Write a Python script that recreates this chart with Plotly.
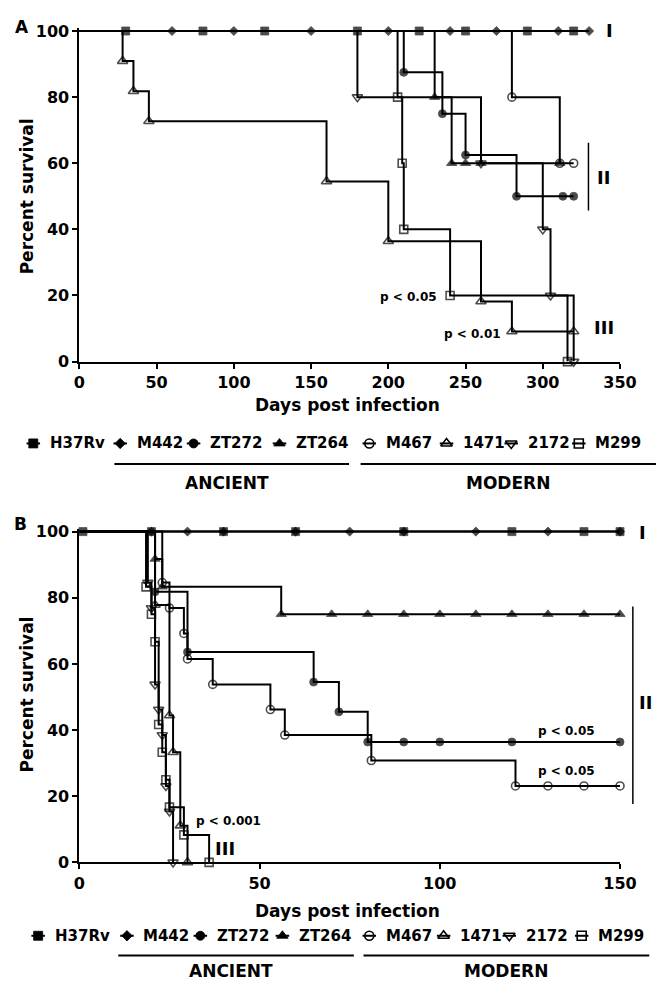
import plotly.graph_objects as go

W, H = 666, 982
FONT = "DejaVu Sans"

NAMES = ["H37Rv", "M442", "ZT272", "ZT264", "M467", "1471", "2172", "M299"]
SYMBOLS = ["square", "diamond", "circle", "triangle-up",
           "circle-open", "triangle-up-open", "triangle-down-open", "square-open"]

# ---------------- Panel A (days post infection, percent survival) ----------------
A_H37RV_T = [0, 30, 80, 120, 180, 220, 250, 290, 320]
A_H37RV_S = [100, 100, 100, 100, 100, 100, 100, 100, 100]
A_M442_T = [0, 60, 100, 150, 200, 240, 270, 310, 330]
A_M442_S = [100, 100, 100, 100, 100, 100, 100, 100, 100]
A_ZT272_T = [0, 210, 235, 250, 283, 313, 320]
A_ZT272_S = [100, 87.5, 75, 62.5, 50, 50, 50]
A_ZT264_T = [0, 230, 241, 250, 260, 311]
A_ZT264_S = [100, 80, 60, 60, 60, 60]
A_M467_T = [0, 280, 311, 320]
A_M467_S = [100, 80, 60, 60]
A_1471_T = [0, 28, 35, 45, 160, 200, 260, 280, 320]
A_1471_S = [100, 90.9, 81.8, 72.7, 54.5, 36.4, 18.2, 9.1, 9.1]
A_2172_T = [0, 180, 260, 300, 305, 320]
A_2172_S = [100, 80, 60, 40, 20, 0]
A_M299_T = [0, 206, 209, 210, 240, 316]
A_M299_S = [100, 80, 60, 40, 20, 0]

# ---------------- Panel B ----------------
B_H37RV_T = [0, 1, 20, 40, 60, 90, 120, 140, 150]
B_H37RV_S = [100, 100, 100, 100, 100, 100, 100, 100, 100]
B_M442_T = [0, 20, 30, 40, 60, 75, 90, 110, 130, 150]
B_M442_S = [100, 100, 100, 100, 100, 100, 100, 100, 100, 100]
B_ZT272_T = [0, 21, 30, 65, 72, 80, 90, 100, 120, 150]
B_ZT272_S = [100, 81.8, 63.6, 54.5, 45.5, 36.4, 36.4, 36.4, 36.4, 36.4]
B_ZT264_T = [0, 21, 23, 56, 70, 80, 90, 100, 110, 120, 130, 140, 150]
B_ZT264_S = [100, 91.7, 83.3, 75, 75, 75, 75, 75, 75, 75, 75, 75, 75]
B_M467_T = [0, 23, 25, 29, 30, 37, 53, 57, 81, 121, 130, 140, 150]
B_M467_S = [100, 84.6, 76.9, 69.2, 61.5, 53.8, 46.2, 38.5, 30.8, 23.1, 23.1, 23.1, 23.1]
B_1471_T = [0, 21, 25, 26, 28, 30]
B_1471_S = [100, 77.8, 44.4, 33.3, 11.1, 0]
B_2172_T = [0, 19, 20, 21, 22, 23, 24, 25, 26]
B_2172_S = [100, 84.6, 76.9, 53.8, 46.2, 38.5, 23.1, 15.4, 0]
B_M299_T = [0, 18.5, 20, 21, 22, 23, 24, 25, 29, 36]
B_M299_S = [100, 83.3, 75, 66.7, 41.7, 33.3, 25, 16.7, 8.3, 0]

A_X_TICKS = [0, 50, 100, 150, 200, 250, 300, 350]
B_X_TICKS = [0, 50, 100, 150]
Y_TICKS = [0, 20, 40, 60, 80, 100]

A_SERIES = [(A_H37RV_T, A_H37RV_S), (A_M442_T, A_M442_S), (A_ZT272_T, A_ZT272_S),
            (A_ZT264_T, A_ZT264_S), (A_M467_T, A_M467_S), (A_1471_T, A_1471_S),
            (A_2172_T, A_2172_S), (A_M299_T, A_M299_S)]
B_SERIES = [(B_H37RV_T, B_H37RV_S), (B_M442_T, B_M442_S), (B_ZT272_T, B_ZT272_S),
            (B_ZT264_T, B_ZT264_S), (B_M467_T, B_M467_S), (B_1471_T, B_1471_S),
            (B_2172_T, B_2172_S), (B_M299_T, B_M299_S)]

MSIZE = {"square": 8, "diamond": 7, "circle": 8, "triangle-up": 9,
         "circle-open": 8, "triangle-up-open": 9, "triangle-down-open": 9, "square-open": 8}


def px(x):
    return x / W


def py(y):
    return 1 - y / H


def mline(sym):
    return dict(color="black", width=1.6 if "open" in sym else 0.8)


fig = go.Figure()


def add_km(t, s, sym, xa, ya, name):
    sizes = [0] + [MSIZE[sym]] * (len(t) - 1)
    fig.add_trace(go.Scatter(
        x=t, y=s, mode="lines+markers", name=name, showlegend=False,
        xaxis=xa, yaxis=ya, cliponaxis=False,
        line=dict(color="black", width=2, shape="hv"),
        marker=dict(symbol=sym, size=sizes, color="black", line=mline(sym)),
        hoverinfo="skip"))


for i in range(len(NAMES)):
    add_km(A_SERIES[i][0], A_SERIES[i][1], SYMBOLS[i], "x", "y", NAMES[i])
for i in range(len(NAMES)):
    add_km(B_SERIES[i][0], B_SERIES[i][1], SYMBOLS[i], "x2", "y2", NAMES[i])

# ---- custom legend rows (key glyphs on an overlay pixel axis) ----
LEG_A_TEXT_X = [35, 125, 201, 290, 383, 463, 530, 600]
LEG_B_TEXT_X = [40, 132, 208, 293, 383, 460, 528, 603]
LEG_A_Y = 436
LEG_B_Y = 937

shapes = []
annotations = []

for texts_x, row_y in ((LEG_A_TEXT_X, LEG_A_Y), (LEG_B_TEXT_X, LEG_B_Y)):
    for i, name in enumerate(NAMES):
        kx = texts_x[i] - 15
        fig.add_trace(go.Scatter(
            x=[kx], y=[row_y], mode="markers", xaxis="x3", yaxis="y3",
            showlegend=False, hoverinfo="skip", cliponaxis=False,
            marker=dict(symbol=SYMBOLS[i], size=MSIZE[SYMBOLS[i]] + 1, color="black",
                        line=mline(SYMBOLS[i]))))
        shapes.append(dict(type="line", xref="paper", yref="paper",
                           x0=px(kx - 7), x1=px(kx + 7), y0=py(row_y), y1=py(row_y),
                           line=dict(color="black", width=2)))
        annotations.append(dict(x=px(texts_x[i]), y=py(row_y), xref="paper", yref="paper",
                                text=name, showarrow=False, xanchor="left", yanchor="middle",
                                font=dict(family=FONT, size=15, color="black", weight="bold")))


def ann(x, y, text, size, xanchor="center", angle=0):
    annotations.append(dict(x=px(x), y=py(y), xref="paper", yref="paper", text=text,
                            showarrow=False, xanchor=xanchor, yanchor="middle",
                            textangle=angle,
                            font=dict(family=FONT, size=size, color="black", weight="bold")))


def hline(x0, x1, y):
    shapes.append(dict(type="line", xref="paper", yref="paper", x0=px(x0), x1=px(x1),
                       y0=py(y), y1=py(y), line=dict(color="black", width=2)))


def vline(x, y0, y1):
    shapes.append(dict(type="line", xref="paper", yref="paper", x0=px(x), x1=px(x),
                       y0=py(y0), y1=py(y1), line=dict(color="black", width=1.5)))


# group bars under legends
hline(104, 347, 457)
hline(359, 665, 457)
ann(221, 476, "ANCIENT", 17)
ann(512, 476, "MODERN", 17)
hline(108, 352, 957)
hline(362, 658, 957)
ann(225, 973, "ANCIENT", 17)
ann(510, 973, "MODERN", 17)

# panel letters
ann(8, 12, "A", 17)
ann(7, 518, "B", 17)

# axis titles
ann(345, 397, "Days post infection", 17)
ann(345, 912, "Days post infection", 17)
ann(13, 185, "Percent survival", 17, angle=-90)
ann(13, 692, "Percent survival", 17, angle=-90)

# group labels panel A
ann(617, 16, "I", 18)
ann(611, 165, "II", 18)
vline(595, 130, 199)
ann(611, 318, "III", 18)
ann(440, 287, "p < 0.05", 12, xanchor="right")
ann(506, 325, "p < 0.01", 12, xanchor="right")

# group labels panel B
ann(651, 527, "I", 18)
ann(654, 700, "II", 18)
vline(641, 602, 803)
ann(219, 848, "III", 18)
ann(222, 820, "p < 0.001", 12)
ann(572, 729, "p < 0.05", 12)
ann(572, 769, "p < 0.05", 12)

XDOM = [px(67.7), px(627.7)]
axis_common = dict(showline=True, linecolor="black", linewidth=2, ticks="outside",
                   ticklen=5, tickwidth=2, tickcolor="black", showgrid=False,
                   zeroline=False, fixedrange=True,
                   tickfont=dict(family=FONT, size=16, color="black", weight="bold"))

fig.update_layout(
    width=W, height=H, margin=dict(l=0, r=0, t=0, b=0),
    paper_bgcolor="white", plot_bgcolor="rgba(0,0,0,0)", showlegend=False,
    xaxis=dict(domain=XDOM, range=[0, 350], tickvals=A_X_TICKS, anchor="y", **axis_common),
    yaxis=dict(domain=[py(352.7), py(352.7 - 100.8 * 3.364)], range=[0, 100.8],
               tickvals=Y_TICKS, anchor="x", **axis_common),
    xaxis2=dict(domain=XDOM, range=[0, 150], tickvals=B_X_TICKS, anchor="y2", **axis_common),
    yaxis2=dict(domain=[py(862.3), py(862.3 - 100.8 * 3.366)], range=[0, 100.8],
                tickvals=Y_TICKS, anchor="x2", **axis_common),
    xaxis3=dict(domain=[0, 1], range=[0, W], visible=False, anchor="y3", fixedrange=True),
    yaxis3=dict(domain=[0, 1], range=[H, 0], visible=False, anchor="x3", fixedrange=True),
    shapes=shapes, annotations=annotations,
)

fig.write_html("out.html")
